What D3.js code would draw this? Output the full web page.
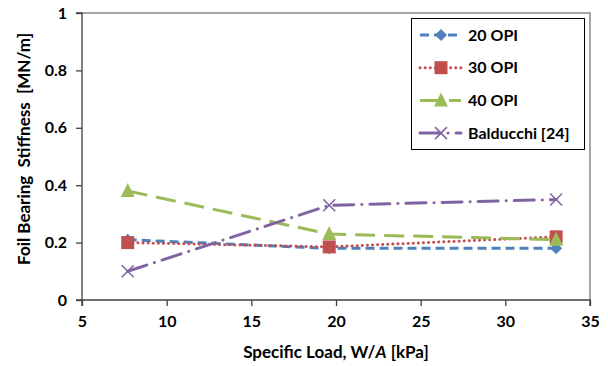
<!DOCTYPE html>
<html>
<head>
<meta charset="utf-8">
<script src="https://cdn.jsdelivr.net/npm/d3@7"></script>
<style>
  html, body { margin: 0; padding: 0; background: #fff; }
  svg { display: block; font-family: Lato, Calibri, "Open Sans", sans-serif; font-weight: bold; }
</style>
</head>
<body>
<svg id="chart" width="608" height="366"></svg>
<script>
const loads = [7.7, 19.6, 33];
const opi20 = [0.21, 0.18, 0.18];
const opi30 = [0.20, 0.185, 0.22];
const opi40 = [0.38, 0.23, 0.21];
const balducchi = [0.10, 0.33, 0.35];
const seriesNames = ["20 OPI", "30 OPI", "40 OPI", "Balducchi [24]"];
const xTicks = [5, 10, 15, 20, 25, 30, 35];
const yTicks = [0, 0.2, 0.4, 0.6, 0.8, 1];

const series = [
  { name: seriesNames[0], values: opi20, color: "#4F81BD", dash: "9,5", marker: "diamond" },
  { name: seriesNames[1], values: opi30, color: "#C0504D", dash: "0.1,5", cap: "round", marker: "square" },
  { name: seriesNames[2], values: opi40, color: "#9BBB59", dash: "20,9", marker: "triangle" },
  { name: seriesNames[3], values: balducchi, color: "#8064A2", dash: "20,8,0.1,8", cap: "round", marker: "x" }
];

const svg = d3.select("#chart");
const m = { left: 82, right: 18, top: 13, bottom: 66 };
const W = 608, H = 366;
const x = d3.scaleLinear().domain([5, 35]).range([m.left, W - m.right]);
const y = d3.scaleLinear().domain([0, 1]).range([H - m.bottom, m.top]);

// plot frame (top/right gray)
svg.append("path")
  .attr("d", `M${x(5)},${y(1)}H${x(35)}V${y(0)}`)
  .attr("fill", "none").attr("stroke", "#898989").attr("stroke-width", 1.5);

// axes
const xAxis = d3.axisBottom(x).tickValues(xTicks).tickSize(6).tickPadding(10).tickFormat(d3.format("d"));
const yAxis = d3.axisLeft(y).tickValues(yTicks).tickSize(6).tickPadding(9).tickFormat(d => d === 0 || d === 1 ? String(d) : d.toFixed(1));

const gx = svg.append("g").attr("transform", `translate(0,${y(0)})`).call(xAxis);
const gy = svg.append("g").attr("transform", `translate(${x(5)},0)`).call(yAxis);
[gx, gy].forEach(g => {
  g.select(".domain").attr("stroke", "#404040").attr("stroke-width", 1.3);
  g.selectAll(".tick line").attr("stroke", "#404040").attr("stroke-width", 1.3);
  g.selectAll(".tick text").attr("fill", "#000").style("font-size", "16px").style("font-family", "Lato, Calibri, sans-serif").style("font-weight", "bold");
});
gx.select(".domain").attr("d", `M${x(5)},6V0H${x(35)}V6`);
gy.select(".domain").attr("d", `M-6,${y(1)}H0V${y(0)}H-6`);

// axis titles
svg.append("text")
  .attr("x", 336).attr("y", 358).attr("text-anchor", "middle")
  .style("font-size", "17px").attr("fill", "#000")
  .call(t => {
    t.append("tspan").text("Specific Load, W/");
    t.append("tspan").style("font-style", "italic").text("A");
    t.append("tspan").text(" [kPa]");
  });
svg.append("text")
  .attr("transform", "translate(30,149) rotate(-90)")
  .attr("text-anchor", "middle")
  .style("font-size", "17px").attr("fill", "#000")
  .attr("xml:space", "preserve")
  .text("Foil Bearing  Stiffness  [MN/m]");

function drawMarker(g, type, cx, cy, color) {
  if (type === "diamond") {
    g.append("path").attr("d", `M${cx},${cy - 6}L${cx + 6},${cy}L${cx},${cy + 6}L${cx - 6},${cy}Z`).attr("fill", color);
  } else if (type === "square") {
    g.append("rect").attr("x", cx - 6.5).attr("y", cy - 6.5).attr("width", 13).attr("height", 13).attr("fill", color);
  } else if (type === "triangle") {
    g.append("path").attr("d", `M${cx},${cy - 8}L${cx + 7},${cy + 6}L${cx - 7},${cy + 6}Z`).attr("fill", color);
  } else if (type === "x") {
    g.append("path").attr("d", `M${cx - 6},${cy - 6}L${cx + 6},${cy + 6}M${cx + 6},${cy - 6}L${cx - 6},${cy + 6}`)
      .attr("stroke", color).attr("stroke-width", 1.5).attr("fill", "none");
  }
}

const line = d3.line().x((d, i) => x(loads[i])).y(d => y(d));
const plot = svg.append("g");
series.forEach(s => {
  plot.append("path").datum(s.values)
    .attr("d", line)
    .attr("fill", "none").attr("stroke", s.color).attr("stroke-width", 3)
    .attr("stroke-dasharray", s.dash)
    .attr("stroke-linecap", s.cap || "butt");
});
series.forEach(s => {
  s.values.forEach((v, i) => drawMarker(plot, s.marker, x(loads[i]), y(v), s.color));
});

// legend
const lg = svg.append("g");
lg.append("rect").attr("x", 411.5).attr("y", 18.5).attr("width", 173).attr("height", 131)
  .attr("fill", "#fff").attr("stroke", "#000").attr("stroke-width", 1);
series.forEach((s, i) => {
  const cy = 35 + i * 32.7;
  lg.append("line").attr("x1", 420).attr("x2", 461).attr("y1", cy).attr("y2", cy)
    .attr("stroke", s.color).attr("stroke-width", 3).attr("stroke-dasharray", s.dash)
    .attr("stroke-linecap", s.cap || "butt");
  drawMarker(lg, s.marker, 441, cy, s.color);
  lg.append("text").attr("x", 468).attr("y", cy).attr("dy", "0.35em")
    .style("font-size", "16px").attr("fill", "#000").text(s.name);
});
</script>
</body>
</html>
